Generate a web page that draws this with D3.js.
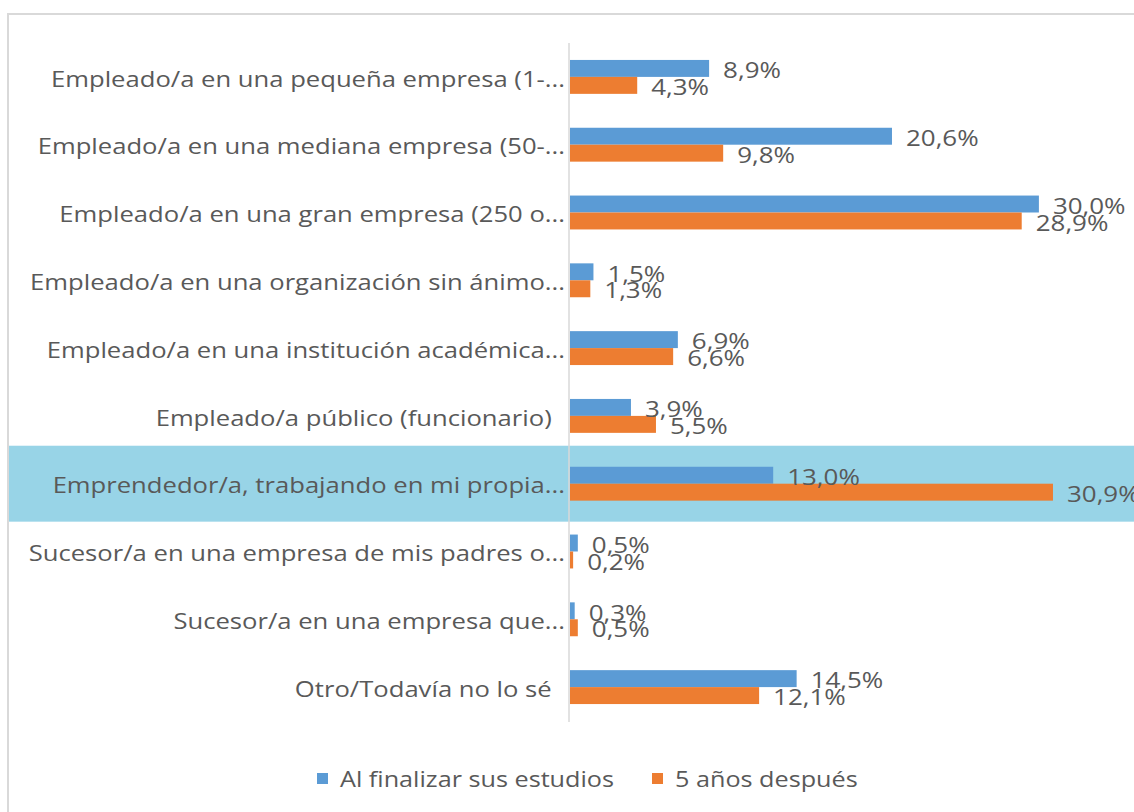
<!DOCTYPE html>
<html>
<head>
<meta charset="utf-8">
<script src="https://cdn.jsdelivr.net/npm/d3@7"></script>
<style>
  body { margin: 0; background: #fff; }
  svg { display: block; }
  text { font-family: "Open Sans", sans-serif; fill: #595959; white-space: pre; }
</style>
</head>
<body>
<svg id="chart" width="1134" height="812"></svg>
<script>
var categories = [
  "Empleado/a en una pequeña empresa (1-...",
  "Empleado/a en una mediana empresa (50-...",
  "Empleado/a en una gran empresa (250 o...",
  "Empleado/a en una organización sin ánimo...",
  "Empleado/a en una institución académica...",
  "Empleado/a público (funcionario)  ",
  "Emprendedor/a, trabajando en mi propia...",
  "Sucesor/a en una empresa de mis padres o...",
  "Sucesor/a en una empresa que...",
  "Otro/Todavía no lo sé  "
];
var seriesNames = ["Al finalizar sus estudios", "5 años después"];
var alFinalizar = [8.9, 20.6, 30.0, 1.5, 6.9, 3.9, 13.0, 0.5, 0.3, 14.5];
var cincoAnios = [4.3, 9.8, 28.9, 1.3, 6.6, 5.5, 30.9, 0.2, 0.5, 12.1];
var highlighted = 6;

var colors = ["#5b9bd5", "#ed7d31"];
var fontSize = 22, stretch = 1.165;

var svg = d3.select("#chart");

// chart frame
svg.append("rect")
  .attr("x", 8).attr("y", 14)
  .attr("width", 1140).attr("height", 810)
  .attr("fill", "#fff")
  .attr("stroke", "#d9d9d9")
  .attr("stroke-width", 2);

var x = d3.scaleLinear().domain([0, 35]).range([569, 569 + 35 * 15.63]);
var y = d3.scaleBand().domain(categories).range([43, 721]).paddingInner(0.5).paddingOuter(0.25);
var sub = d3.scaleBand().domain([0, 1]).range([0, y.bandwidth()]);

function fmt(v) { return d3.format(".1f")(v).replace(".", ",") + "%"; }

// highlighted row
var hc = y(categories[highlighted]) + y.bandwidth() / 2;
svg.append("rect")
  .attr("x", 9).attr("width", 1125)
  .attr("y", hc - y.step() * 0.56)
  .attr("height", y.step() * 1.12)
  .attr("fill", "#98d4e7");

// axis line
svg.append("line")
  .attr("x1", x(0)).attr("x2", x(0))
  .attr("y1", 43).attr("y2", 722)
  .attr("stroke", "#d9d9d9").attr("stroke-width", 1.5);

// category labels
svg.selectAll("text.cat")
  .data(categories)
  .enter().append("text")
  .attr("class", "cat")
  .attr("transform", function(d) {
    return "translate(" + (x(0) - 4) + "," + (y(d) + y.bandwidth() / 2 + 1) + ") scale(" + stretch + ",1)";
  })
  .attr("text-anchor", "end")
  .attr("dominant-baseline", "central")
  .style("font-size", fontSize + "px")
  .text(function(d) { return d; });

var series = [alFinalizar, cincoAnios];

series.forEach(function(vals, si) {
  svg.selectAll("rect.s" + si)
    .data(vals)
    .enter().append("rect")
    .attr("class", "s" + si)
    .attr("x", x(0) + 1)
    .attr("y", function(d, i) { return y(categories[i]) + sub(si); })
    .attr("width", function(d) { return x(d) - x(0); })
    .attr("height", sub.bandwidth())
    .attr("fill", colors[si]);
});

series.forEach(function(vals, si) {
  svg.selectAll("text.l" + si)
    .data(vals)
    .enter().append("text")
    .attr("class", "l" + si)
    .attr("transform", function(d, i) {
      var yy = y(categories[i]) + sub(si) + sub.bandwidth() / 2 + 1;
      return "translate(" + (x(d) + 15) + "," + yy + ") scale(1.18,1)";
    })
    .attr("dominant-baseline", "central")
    .style("font-size", fontSize + "px")
    .text(fmt);
});

// legend
var legend = svg.append("g");
var legendX = [317, 652];
seriesNames.forEach(function(name, i) {
  legend.append("rect")
    .attr("x", legendX[i]).attr("y", 773)
    .attr("width", 11).attr("height", 11)
    .attr("fill", colors[i]);
  legend.append("text")
    .attr("transform", "translate(" + (legendX[i] + 23) + ",779) scale(1.2,1)")
    .attr("dominant-baseline", "central")
    .style("font-size", "21px")
    .text(name);
});
</script>
</body>
</html>
